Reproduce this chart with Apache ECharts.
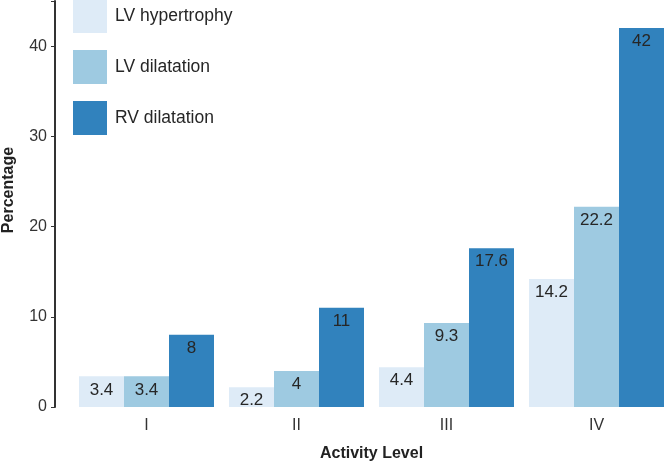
<!DOCTYPE html>
<html lang="en">
    <head>
        <meta charset="UTF-8">
        <title>Activity Level</title>
        <script src="https://cdn.jsdelivr.net/npm/echarts@6/dist/echarts.min.js"></script>
        <style>
            body { margin: 0; background: #fff; }
        </style>
    </head>
    <body>
        <div id="main" style="width: 666px;height:462px;"></div>
        <script>
            var myChart = echarts.init(document.getElementById('main'));

            // data
            var levels = ['I', 'II', 'III', 'IV'];
            var lvHypertrophy = [3.4, 2.2, 4.4, 14.2];
            var lvDilatation = [3.4, 4, 9.3, 22.2];
            var rvDilatation = [8, 11, 17.6, 42];
            var yTicks = [0, 10, 20, 30, 40];

            var font = 'Liberation Sans, Arial, sans-serif';

            function barSeries(name, data, color) {
                return {
                    name: name,
                    type: 'bar',
                    data: data,
                    barWidth: 45,
                    barGap: '0%',
                    itemStyle: { color: color },
                    label: {
                        show: true,
                        position: 'insideTop',
                        distance: 5,
                        color: '#262626',
                        fontSize: 17,
                        fontFamily: font
                    }
                };
            }

            var option = {
                animation: false,
                grid: {
                    left: 71.5,
                    width: 600,
                    top: 1,
                    bottom: 55,
                    outerBoundsMode: 'none',
                    containLabel: false
                },
                legend: {
                    orient: 'vertical',
                    left: 68,
                    top: -6,
                    itemWidth: 34,
                    itemHeight: 34,
                    itemGap: 17,
                    icon: 'rect',
                    textStyle: { fontSize: 17.5, color: '#262626', fontFamily: font, padding: [4, 0, 0, 3] },
                    data: ['LV hypertrophy', 'LV dilatation', 'RV dilatation']
                },
                xAxis: {
                    type: 'category',
                    data: levels,
                    axisLine: { show: false },
                    axisTick: { show: false },
                    axisLabel: { color: '#333', fontSize: 16, margin: 11, fontFamily: font },
                    name: 'Activity Level',
                    nameLocation: 'middle',
                    nameGap: 39,
                    nameTextStyle: { fontWeight: 'bold', fontSize: 16, color: '#222', fontFamily: font }
                },
                yAxis: {
                    type: 'value',
                    min: 0,
                    max: 45,
                    interval: 10,
                    offset: 16.5,
                    splitLine: { show: false },
                    axisLine: { show: true, lineStyle: { color: '#333', width: 2 } },
                    axisTick: { show: true, length: 4, lineStyle: { color: '#333' } },
                    axisLabel: {
                        color: '#333', fontSize: 16, margin: 8, fontFamily: font,
                        formatter: function (v) { return yTicks.indexOf(v) >= 0 ? v : ''; }
                    },
                    name: 'Percentage',
                    nameLocation: 'middle',
                    nameGap: 38,
                    nameTextStyle: { fontWeight: 'bold', fontSize: 16, color: '#222', fontFamily: font, padding: [0, 0, 0, 28] }
                },
                series: [
                    barSeries('LV hypertrophy', lvHypertrophy, '#deebf7'),
                    barSeries('LV dilatation', lvDilatation, '#9ecae1'),
                    barSeries('RV dilatation', rvDilatation, '#3182bd')
                ]
            };

            myChart.setOption(option);
        </script>
    </body>
</html>
